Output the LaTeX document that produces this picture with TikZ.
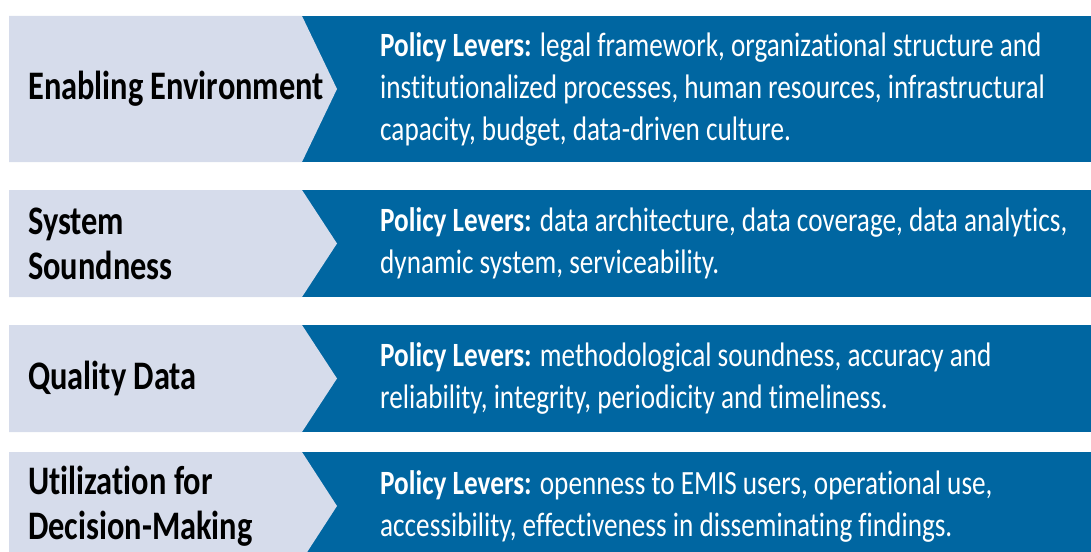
\documentclass[tikz,border=0pt]{standalone}
\usepackage{fontspec}
\setmainfont[FakeStretch=0.8,Ligatures=NoCommon]{Carlito}
\definecolor{leverblue}{RGB}{0,102,161}
\definecolor{arealight}{RGB}{214,220,235}
\begin{document}
\begin{tikzpicture}[x=1pt,y=-1pt,
    area/.style={anchor=west, align=left, inner sep=0pt, font=\fontsize{40.5}{45}\selectfont\bfseries},
    lever/.style={anchor=west, align=left, inner sep=0pt, text=white, font=\fontsize{34}{42}\selectfont}]
    \useasboundingbox (0,0) rectangle (1091,551);
    \clip (0,0) rectangle (1091,551);
    % enabling environment
    \fill[leverblue] (302,16) rectangle (1091,162);
    \fill[arealight] (9,16) -- (302,16) -- (337,89) -- (302,162) -- (9,162) -- cycle;
    \node [area] (env) at (28,89) {Enabling Environment};
    \node [lever] (envlevers) at (380,89) {\textbf{Policy Levers:} legal framework, organizational structure and\\institutionalized processes, human resources, infrastructural\\capacity, budget, data-driven culture.};
    % system soundness
    \fill[leverblue] (302,190) rectangle (1091,297);
    \fill[arealight] (9,190) -- (302,190) -- (337,243.5) -- (302,297) -- (9,297) -- cycle;
    \node [area] (sys) at (28,243.5) {System\\Soundness};
    \node [lever] (syslevers) at (380,243.5) {\textbf{Policy Levers:} data architecture, data coverage, data analytics,\\dynamic system, serviceability.};
    % quality data
    \fill[leverblue] (302,325) rectangle (1091,432);
    \fill[arealight] (9,325) -- (302,325) -- (337,378.5) -- (302,432) -- (9,432) -- cycle;
    \node [area] (qual) at (28,378.5) {Quality Data};
    \node [lever] (quallevers) at (380,378.5) {\textbf{Policy Levers:} methodological soundness, accuracy and\\reliability, integrity, periodicity and timeliness.};
    % utilization
    \fill[leverblue] (302,452) rectangle (1091,560);
    \fill[arealight] (9,452) -- (302,452) -- (337,506) -- (302,560) -- (9,560) -- cycle;
    \node [area] (util) at (28,506) {Utilization for\\Decision-Making};
    \node [lever] (utillevers) at (380,506) {\textbf{Policy Levers:} openness to EMIS users, operational use,\\accessibility, effectiveness in disseminating findings.};
\end{tikzpicture}
\end{document}
